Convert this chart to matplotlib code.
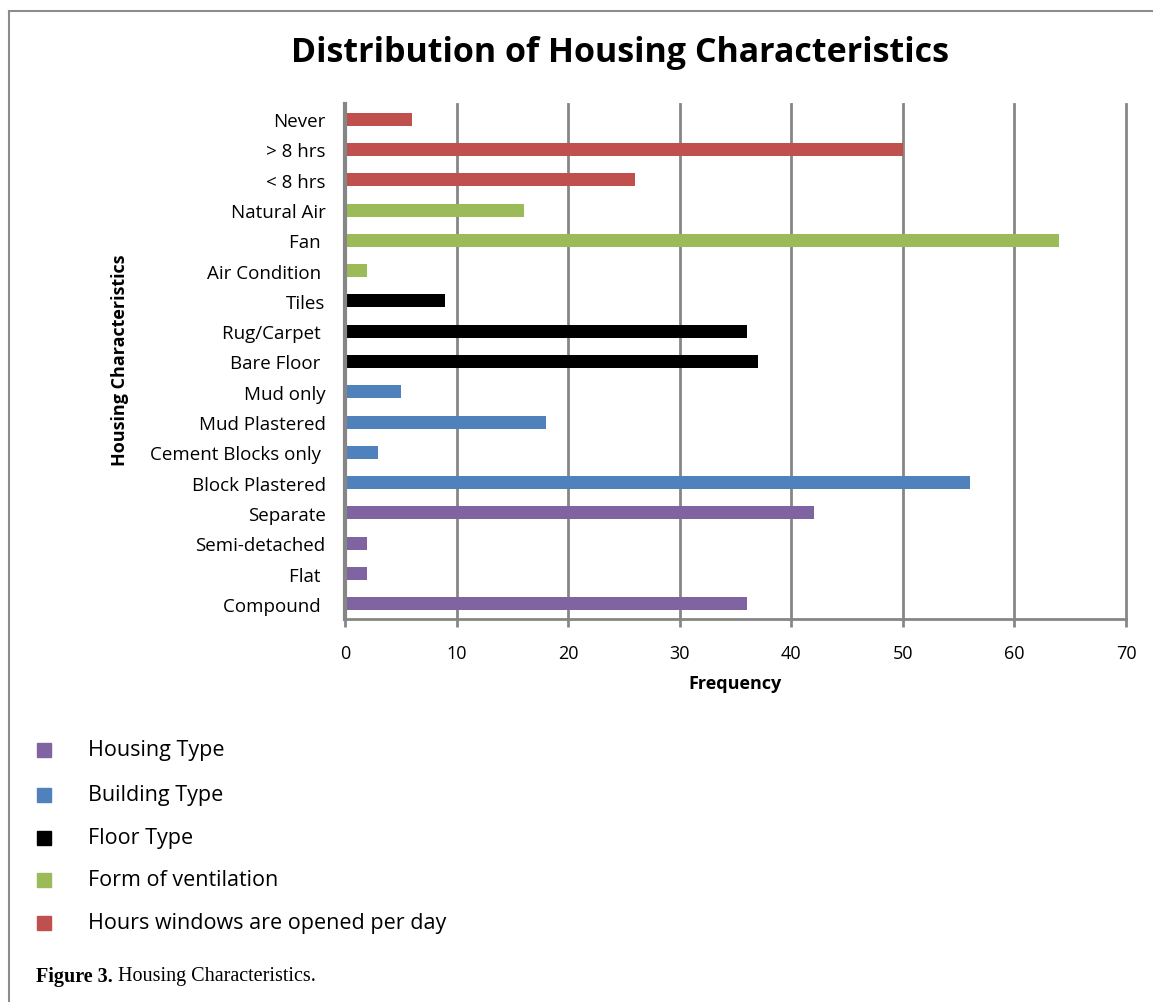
import matplotlib
matplotlib.use("Agg")
import matplotlib.pyplot as plt
from matplotlib.patches import Rectangle
from matplotlib.lines import Line2D

plt.rcParams['font.family'] = ['Open Sans', 'DejaVu Sans']

# data, bottom to top as drawn
labels = ["Compound ", "Flat ", "Semi-detached", "Separate",
          "Block Plastered", "Cement Blocks only ", "Mud Plastered", "Mud only",
          "Bare Floor ", "Rug/Carpet ", "Tiles",
          "Air Condition ", "Fan ", "Natural Air",
          "< 8 hrs", "> 8 hrs", "Never"]
values = [36, 2, 2, 42,
          56, 3, 18, 5,
          37, 36, 9,
          2, 64, 16,
          26, 50, 6]
groups = [0, 0, 0, 0,
          1, 1, 1, 1,
          2, 2, 2,
          3, 3, 3,
          4, 4, 4]
group_names = ["Housing Type", "Building Type", "Floor Type",
               "Form of ventilation", "Hours windows are opened per day"]
group_colors = ["#8064A2", "#4F81BD", "#000000", "#9BBB59", "#C0504D"]

W, H = 1153, 1003
fig = plt.figure(figsize=(W / 100, H / 100), dpi=100)
ax = fig.add_axes([345 / W, 1 - 620 / H, (1126 - 345) / W, (620 - 105) / H])

ypos = list(range(len(labels)))
colors = [group_colors[g] for g in groups]
ax.barh(ypos, values, height=0.43, color=colors, zorder=3)

ax.set_xlim(0, 70)
ax.set_ylim(-0.5, len(labels) - 0.5)
ax.set_xticks(range(0, 71, 10))
ax.set_yticks(ypos)
ax.set_yticklabels(labels, fontsize=13.5)
ax.tick_params(axis='y', length=0, pad=14)
ax.tick_params(axis='x', length=6, width=2, color='#868686', labelsize=13, pad=12)
ax.grid(axis='x', color='#868686', linewidth=2, zorder=1)
for gl in ax.get_xgridlines():
    gl.set_clip_on(False)
for s in ['top', 'right']:
    ax.spines[s].set_visible(False)
ax.spines['left'].set_color('#868686')
ax.spines['left'].set_linewidth(3)
ax.spines['left'].set_zorder(4)
ax.spines['bottom'].set_color('#868686')
ax.spines['bottom'].set_linewidth(2)

ax.set_xlabel("Frequency", fontsize=13, fontweight='bold', labelpad=9)
fig.text(120 / W, 1 - 360 / H, "Housing Characteristics", rotation=90,
         ha='center', va='center', fontsize=13, fontweight='bold')

fig.text(620 / W, 1 - 53 / H, "Distribution of Housing Characteristics",
         ha='center', va='center', fontsize=24.5, fontweight='bold')

# legend
leg_y = [751, 796, 839, 881, 924]
for name, col, y in zip(group_names, group_colors, leg_y):
    fig.add_artist(Rectangle((37 / W, 1 - (y + 7) / H), 14 / W, 14 / H,
                             transform=fig.transFigure, color=col))
    fig.text(88 / W, 1 - y / H, name, ha='left', va='center', fontsize=15.5)

# caption
cap1 = fig.text(36 / W, 1 - 977 / H, "Figure 3.", ha='left', va='center',
                fontsize=14.5, fontweight='bold', family='Liberation Serif')
r = fig.canvas.get_renderer()
bb = cap1.get_window_extent(renderer=r)
fig.text((bb.x1 + 5) / W, 1 - 977 / H, "Housing Characteristics.", ha='left',
         va='center', fontsize=14.5, family='Liberation Serif')

# frame
fig.add_artist(Line2D([9 / W, 9 / W], [0, 1 - 12 / H], transform=fig.transFigure,
                      color='#8c8c8c', linewidth=1.5))
fig.add_artist(Line2D([9 / W, 1], [1 - 12 / H, 1 - 12 / H], transform=fig.transFigure,
                      color='#8c8c8c', linewidth=1.5))

fig.savefig("out.png", dpi=100)
